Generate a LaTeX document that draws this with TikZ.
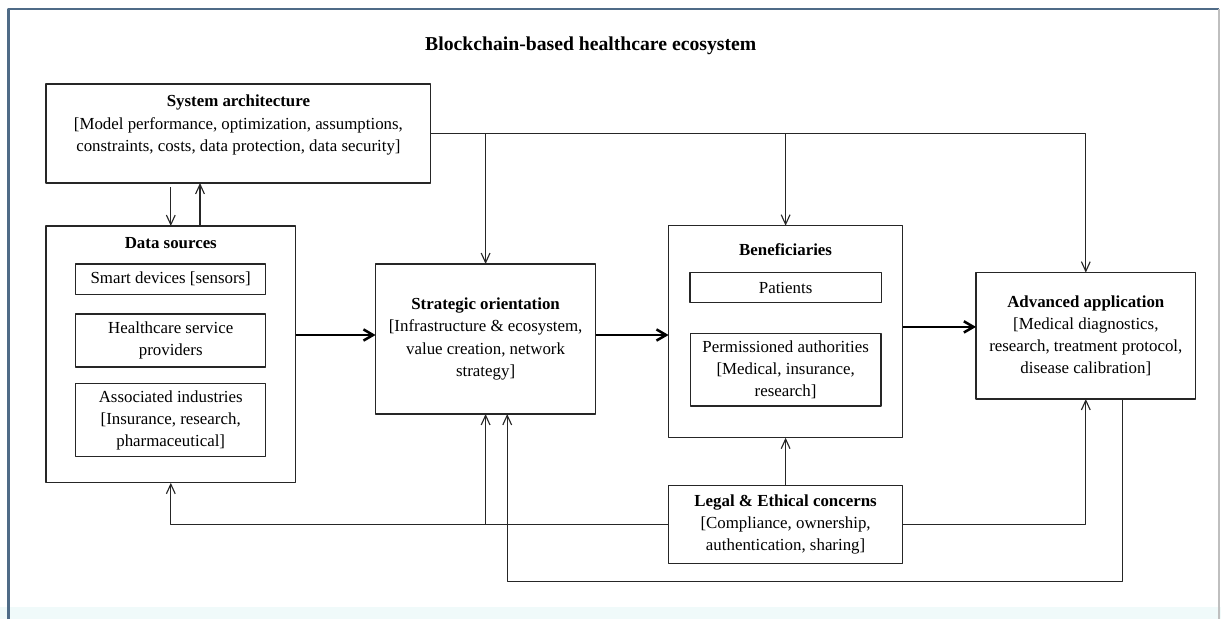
\documentclass[tikz,border=0pt]{standalone}
\usepackage{fontspec}
\setmainfont{Liberation Serif}
\usetikzlibrary{arrows.meta}
\definecolor{framecol}{RGB}{79,107,135}
\definecolor{stripcol}{RGB}{240,250,250}
\begin{document}
\begin{tikzpicture}[x=0.025cm, y=-0.025cm, line join=round,
  >={Straight Barb[length=2.4mm,width=2.2mm]},
  box/.style={draw=black!85, line width=0.8pt, inner sep=0pt, outer sep=0pt,
    align=center, font=\fontsize{12}{15.8}\selectfont},
  head/.style={align=center, inner sep=0pt, font=\fontsize{12}{15.8}\selectfont},
  boldhead/.style={head, font=\bfseries\fontsize{12}{15.8}\selectfont},
  link/.style={draw=black!85, line width=0.8pt},
  flow/.style={draw=black, line width=1.8pt, -{Straight Barb[length=2.4mm,width=2.8mm]}}]
	% page and frame
	\useasboundingbox (0,0) rectangle (1221,619);
	\fill[stripcol] (0,607) rectangle (1221,619);
	\draw[framecol, line width=2pt] (8.7,619) -- (8.7,9) -- (1219,9);
	\draw[black!25, line width=1pt] (1219,9) -- (1219,619);
	% title
	\node[font=\bfseries\fontsize{14}{17}\selectfont, anchor=base] (title) at (590.7,50) {Blockchain-based healthcare ecosystem};
	% system architecture
	\node[box, minimum width=9.62cm, minimum height=2.475cm] (sys) at (238.4,133.5) {};
	\node[head] (sys-t) at (238.4,125) {\textbf{System architecture}\\{[}Model performance, optimization, assumptions,\\constraints, costs, data protection, data security]};
	% data sources
	\node[box, minimum width=6.24cm, minimum height=6.42cm] (ds) at (170.8,354.4) {};
	\node[boldhead] (ds-t) at (170.8,243.5) {Data sources};
	\node[box, minimum width=4.75cm, minimum height=0.76cm] (smart) at (170.7,279.2) {Smart devices [sensors]};
	\node[box, minimum width=4.75cm, minimum height=1.325cm] (hsp) at (170.7,340.5) {Healthcare service\\providers};
	\node[box, minimum width=4.75cm, minimum height=1.82cm] (ind) at (170.7,420.3) {Associated industries\\{[}Insurance, research,\\pharmaceutical]};
	% strategic orientation
	\node[box, minimum width=5.5cm, minimum height=3.75cm] (strat) at (485.6,339) {\textbf{Strategic orientation}\\{[}Infrastructure \& ecosystem,\\value creation, network\\strategy]};
	% beneficiaries
	\node[box, minimum width=5.85cm, minimum height=5.3cm] (ben) at (785.6,331.7) {};
	\node[boldhead] (ben-t) at (785.6,250) {Beneficiaries};
	\node[box, minimum width=4.78cm, minimum height=0.745cm] (pat) at (785.6,287.6) {Patients};
	\node[box, minimum width=4.77cm, minimum height=1.81cm] (perm) at (785.6,369.8) {Permissioned authorities\\{[}Medical, insurance,\\research]};
	% advanced application
	\node[box, minimum width=5.49cm, minimum height=3.16cm] (adv) at (1085.8,335.8) {\textbf{Advanced application}\\{[}Medical diagnostics,\\research, treatment protocol,\\disease calibration]};
	% legal and ethical concerns
	\node[box, minimum width=5.86cm, minimum height=1.94cm] (legal) at (785.6,524.5) {\textbf{Legal \& Ethical concerns}\\{[}Compliance, ownership,\\authentication, sharing]};
	% main flow
	\draw[flow] ([yshift=1mm]ds.east |- strat.west) -- ([yshift=1mm]strat.west);
	\draw[flow] ([yshift=1mm]strat.east) -- ([yshift=1mm]strat.east -| ben.west);
	\draw[flow] ([yshift=1.2mm]ben.east) -- ([yshift=1.2mm]ben.east -| adv.west);
	% system architecture and data sources
	\draw[link,->] ([yshift=-1mm]sys.south -| ds.north) -- (ds.north);
	\draw[link,->] ([xshift=7.3mm]ds.north) -- ([xshift=7.3mm]ds.north |- sys.south);
	% top bus
	\draw[link,->] (sys.east) -| (adv.north);
	\draw[link,->] (sys.east -| strat.north) -- (strat.north);
	\draw[link,->] (sys.east -| ben.north) -- (ben.north);
	% legal links
	\draw[link,->] (legal.north) -- (ben.south);
	\draw[link,->] (legal.west) -| (ds.south);
	\draw[link,->] (legal.west -| strat.south) -- (strat.south);
	\draw[link,->] (legal.east) -| (adv.south);
	% feedback to strategic orientation
	\coordinate (fbA) at ([xshift=9.2mm]adv.south);
	\coordinate (fbB) at ([xshift=5.4mm]strat.south);
	\draw[link,->] (fbA) -- ++(0,182.7) -| (fbB);
\end{tikzpicture}
\end{document}
